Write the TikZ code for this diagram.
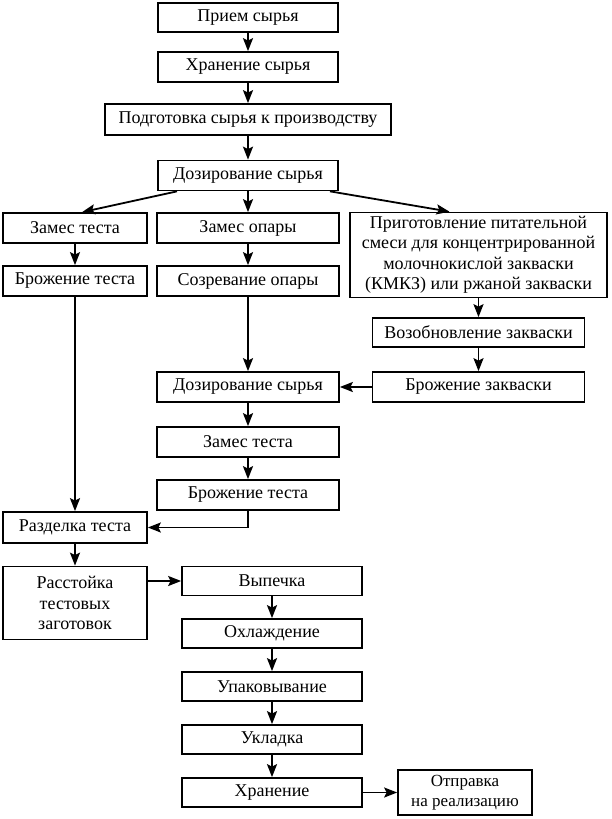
\documentclass[tikz,border=0pt]{standalone}
\usepackage{fontspec}
\setmainfont{Liberation Serif}
\usetikzlibrary{arrows.meta}
\begin{document}
\begin{tikzpicture}[x=1pt,y=-1pt,
  box/.style={draw, line width=1.7pt, inner sep=0.5pt, align=center,
    font=\fontsize{18}{20.5}\selectfont, minimum height=30pt},
  arr/.style={line width=1.8pt, -{Stealth[length=13pt,width=10pt,inset=2.5pt]}}]
\useasboundingbox (0,0) rectangle (611,819);
% top column
\node[box, minimum width=180pt, minimum height=29pt] (n1) at (248,17.5) {Прием сырья};
\node[box, minimum width=180pt] (n2) at (248,67) {Хранение сырья};
\node[box, minimum width=286pt, minimum height=31pt] (n3) at (248,119.5) {Подготовка сырья к производству};
\node[box, minimum width=180pt, minimum height=30pt] (n4) at (248,175.5) {Дозирование сырья};
% row 1
\node[box, minimum width=144pt] (n5) at (75,228) {Замес теста};
\node[box, minimum width=182pt] (n6) at (248,228) {Замес опары};
\node[box, minimum width=257pt, minimum height=85pt] (n7) at (478.5,255) {Приготовление питательной\\смеси для концентрированной\\молочнокислой закваски\\(КМКЗ) или ржаной закваски};
% row 2
\node[box, minimum width=144pt] (n8) at (75,281) {Брожение теста};
\node[box, minimum width=182pt] (n9) at (248,281) {Созревание опары};
% right column
\node[box, minimum width=212pt, minimum height=29pt] (n10) at (478.5,332.5) {Возобновление закваски};
\node[box, minimum width=212pt] (n11) at (478.5,387) {Брожение закваски};
% middle column
\node[box, minimum width=182pt] (n12) at (248,387) {Дозирование сырья};
\node[box, minimum width=182pt] (n13) at (248,442) {Замес теста};
\node[box, minimum width=182pt] (n14) at (248,495) {Брожение теста};
% left lower
\node[box, minimum width=144pt, minimum height=31pt] (n15) at (75,527.5) {Разделка теста};
\node[box, minimum width=144pt, minimum height=73pt] (n16) at (75,603) {Расстойка\\тестовых\\заготовок};
% lower column
\node[box, minimum width=180pt, minimum height=29pt] (n17) at (272,581) {Выпечка};
\node[box, minimum width=180pt, minimum height=29pt] (n18) at (272,633.5) {Охлаждение};
\node[box, minimum width=180pt, minimum height=29pt] (n19) at (272,686.5) {Упаковывание};
\node[box, minimum width=180pt, minimum height=29pt] (n20) at (272,739.5) {Укладка};
\node[box, minimum width=180pt, minimum height=29pt] (n21) at (272,792.5) {Хранение};
\node[box, minimum width=134pt, minimum height=45pt, font=\fontsize{17}{20}\selectfont] (n22) at (465,792.5) {Отправка\\на реализацию};
% connectors
\draw[arr] (n1.south) -- (n2.north);
\draw[arr] (n2.south) -- (n3.north);
\draw[arr] (n3.south) -- (n4.north);
\draw[arr] ([xshift=-71pt]n4.south) -- ([xshift=7pt]n5.north);
\draw[arr] (n4.south) -- (n6.north);
\draw[arr] ([xshift=82pt]n4.south) -- ([xshift=-29pt]n7.north);
\draw[arr] (n5.south) -- (n8.north);
\draw[arr] (n6.south) -- (n9.north);
\draw[arr] (n7.south) -- (n10.north);
\draw[arr] (n10.south) -- (n11.north);
\draw[arr] (n11.west) -- (n12.east);
\draw[arr] (n9.south) -- (n12.north);
\draw[arr] (n12.south) -- (n13.north);
\draw[arr] (n13.south) -- (n14.north);
\draw[arr] (n8.south) -- (n15.north);
\draw[arr] (n14.south) |- (n15.east);
\draw[arr] (n15.south) -- (n16.north);
\draw[arr] (n16.east |- n17.west) -- (n17.west);
\draw[arr] (n17.south) -- (n18.north);
\draw[arr] (n18.south) -- (n19.north);
\draw[arr] (n19.south) -- (n20.north);
\draw[arr] (n20.south) -- (n21.north);
\draw[arr] (n21.east) -- (n22.west);
\end{tikzpicture}
\end{document}
